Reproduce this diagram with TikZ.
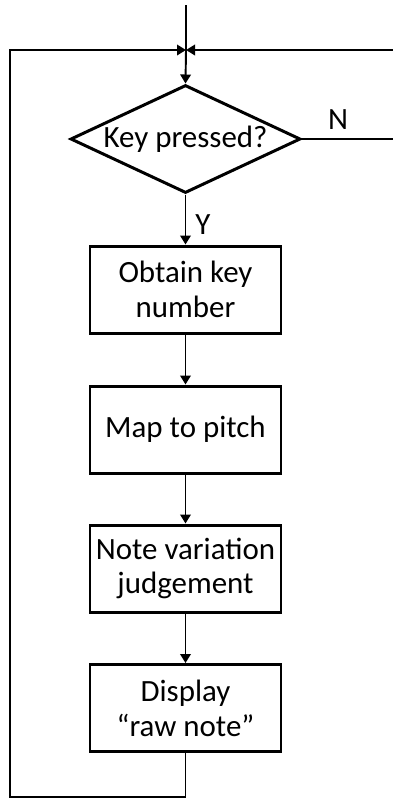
\documentclass[tikz,border=0pt]{standalone}
\usepackage{fontspec}
\setmainfont{Carlito}
\usepackage{tikz}
\usetikzlibrary{shapes.geometric,arrows.meta}

\begin{document}
\begin{tikzpicture}[>={Triangle[length=0.9mm,width=1.05mm]},line width=0.55pt,
  font=\fontsize{8.8}{9.9}\selectfont,
  stepbox/.style={draw,rectangle,line width=0.85pt,minimum width=1.91cm,minimum height=0.87cm,inner sep=0pt,align=center},
  decision/.style={draw,diamond,line width=0.85pt,minimum width=2.3cm,minimum height=1.08cm,inner sep=0pt,aspect=2.13}]
  \useasboundingbox (0,0) rectangle (3.92,-7.99);
  \coordinate(start) at (1.86,-0.05);
  \coordinate(join) at (1.86,-0.50);
  \node(key)[decision] at (1.855,-1.39) {Key pressed?};
  \node(obtain)[stepbox] at (1.855,-2.895) {Obtain key\\number};
  \node(map)[stepbox] at (1.855,-4.295) {Map to pitch};
  \node(judge)[stepbox] at (1.855,-5.685) {Note variation\\judgement};
  \node(show)[stepbox] at (1.855,-7.08) {Display\\“raw note”};
  \coordinate(lefttop) at (0.10,-0.50);
  \coordinate(leftbot) at (0.10,-7.97);
  \coordinate(rightmid) at (3.96,-1.39);
  \coordinate(righttop) at (3.96,-0.50);
  \draw (start) -- (join);
  \draw [->] (join) -- (key.north);
  \draw [->] (key.south) -- (obtain.north);
  \draw [->] (obtain.south) -- (map.north);
  \draw [->] (map.south) -- (judge.north);
  \draw [->] (judge.south) -- (show.north);
  % loop back on the left
  \draw [->] (show.south) |- (leftbot) -- (lefttop) -- (join);
  % no branch on the right
  \draw [->] (key.east) -- (rightmid) -- (righttop) -- (join);
  \node(no) at (3.38,-1.20) {N};
  \node(yes) at (2.03,-2.25) {Y};
\end{tikzpicture}
\end{document}
